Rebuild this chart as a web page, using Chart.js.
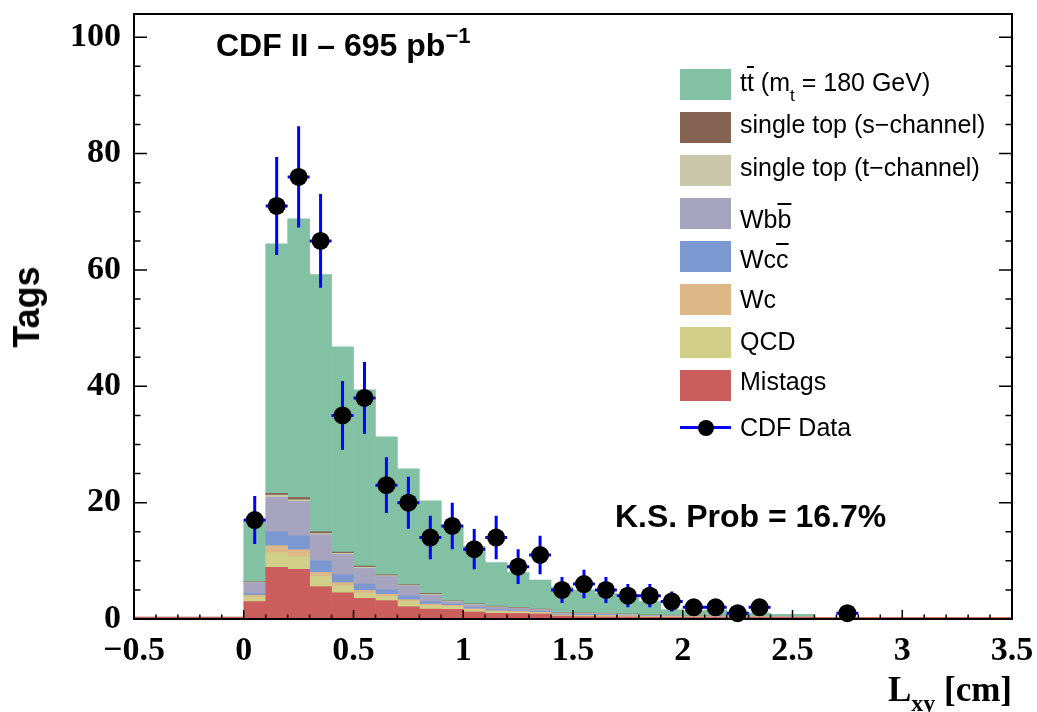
<!DOCTYPE html>
<html>
<head>
<meta charset="utf-8">
<script src="https://cdn.jsdelivr.net/npm/chart.js@4.4.0/dist/chart.umd.min.js"></script>
<style>
  body { margin: 0; background: #fff; }
  #wrap { position: relative; width: 1037px; height: 712px; font-family: "Liberation Sans", Arial, sans-serif; }
  #wrap canvas { position: absolute; left: 0; top: 0; }
  .txt { position: absolute; white-space: nowrap; color: #000; line-height: 1; }
  .box { position: absolute; width: 51px; height: 31px; }
  .leg { font-size: 25px; left: 740px; }
  .ov { text-decoration: overline; }
</style>
</head>
<body>
<div id="wrap">
  <canvas id="ctxLxy" width="1037" height="712"></canvas>

  <div class="txt" style="left:216px; top:29px; font-size:32px; font-weight:bold;">CDF II &ndash; 695 pb<span style="font-size:22px; position:relative; top:-13px;">&minus;1</span></div>
  <div class="txt" style="left:615px; top:500px; font-size:32px; font-weight:bold;">K.S. Prob = 16.7%</div>
  <div class="txt" style="left:27px; top:307px; font-size:36px; font-weight:bold; transform: translate(-50%, -50%) rotate(-90deg);">Tags</div>
  <div class="txt" style="right:25px; top:672px; font-size:35px; font-weight:bold; font-family:'Liberation Serif', serif;">L<span style="font-size:24px; position:relative; top:10px;">xy</span> [cm]</div>

  <div class="box" style="left:680px; top:69px; background:#82C1A4;"></div>
  <div class="txt leg" style="top:70px;">t<span class="ov">t</span> (m<span style="font-size:17px; position:relative; top:10px;">t</span> = 180 GeV)</div>
  <div class="box" style="left:680px; top:112px; background:#856353;"></div>
  <div class="txt leg" style="top:112px;">single top (s&minus;channel)</div>
  <div class="box" style="left:680px; top:155px; background:#CBC7AA;"></div>
  <div class="txt leg" style="top:155px;">single top (t&minus;channel)</div>
  <div class="box" style="left:680px; top:198px; background:#A7A4C0;"></div>
  <div class="txt leg" style="top:207px;">Wb<span class="ov">b</span></div>
  <div class="box" style="left:680px; top:241px; background:#7B99D0;"></div>
  <div class="txt leg" style="top:247px;">Wc<span class="ov">c</span></div>
  <div class="box" style="left:680px; top:284px; background:#DEB788;"></div>
  <div class="txt leg" style="top:287px;">Wc</div>
  <div class="box" style="left:680px; top:327px; background:#D1CE89;"></div>
  <div class="txt leg" style="top:329px;">QCD</div>
  <div class="box" style="left:680px; top:370px; background:#CC5D5D;"></div>
  <div class="txt leg" style="top:369px;">Mistags</div>
  <div style="position:absolute; left:680px; top:426px; width:51px; height:3px; background:#0000FF;"></div>
  <div style="position:absolute; left:698px; top:420px; width:16px; height:16px; border-radius:50%; background:#000;"></div>
  <div class="txt leg" style="top:415px;">CDF Data</div>
</div>

<script>
// L_xy bins, -0.5 .. 3.5 in steps of 0.1 (bin centres)
const binCenters = [
  -0.45, -0.35, -0.25, -0.15, -0.05,
  0.05, 0.15, 0.25, 0.35, 0.45, 0.55, 0.65, 0.75, 0.85, 0.95,
  1.05, 1.15, 1.25, 1.35, 1.45, 1.55, 1.65, 1.75, 1.85, 1.95,
  2.05, 2.15, 2.25, 2.35, 2.45, 2.55, 2.65, 2.75, 2.85, 2.95,
  3.05, 3.15, 3.25, 3.35, 3.45
];

// stacked backgrounds, bottom to top
const mistags = [0.3, 0.3, 0.3, 0.3, 0.3,
  3.0, 8.9, 8.55, 5.56, 4.5, 3.55, 3.15, 2.1, 1.7, 1.65,
  1.2, 0.97, 0.95, 0.86, 0.5, 0.4, 0.35, 0.35, 0.3, 0.3,
  0.3, 0.3, 0.3, 0.3, 0.3, 0.3, 0.25, 0.25, 0.25, 0.25,
  0.25, 0.25, 0.25, 0.25, 0.25];
const qcd = [0, 0, 0, 0, 0,
  0.8, 2.5, 2.15, 1.74, 1.2, 0.85, 0.7, 0.9, 0.6, 0.5,
  0.4, 0.33, 0.25, 0.19, 0.15, 0.15, 0.15, 0.15, 0.1, 0.1,
  0.05, 0.05, 0.05, 0.05, 0.03, 0.03, 0, 0, 0, 0,
  0, 0, 0, 0, 0];
const wc = [0, 0, 0, 0, 0,
  0.3, 1.2, 1.2, 0.7, 0.55, 0.5, 0.4, 0.3, 0.25, 0.2,
  0.15, 0.1, 0.1, 0.1, 0.05, 0.05, 0.1, 0.05, 0.05, 0.05,
  0.03, 0.03, 0.02, 0.02, 0.02, 0.02, 0, 0, 0, 0,
  0, 0, 0, 0, 0];
const wcc = [0, 0, 0, 0, 0,
  0.3, 2.4, 2.4, 2.0, 1.35, 1.1, 0.75, 0.66, 0.45, 0.2,
  0.2, 0.2, 0.15, 0.15, 0.1, 0.1, 0.1, 0.05, 0.05, 0.05,
  0.03, 0.03, 0.03, 0.02, 0.02, 0.02, 0, 0, 0, 0,
  0, 0, 0, 0, 0];
const wbb = [0, 0, 0, 0, 0,
  1.85, 5.9, 5.9, 4.5, 3.5, 2.7, 2.3, 1.74, 1.1, 0.35,
  0.45, 0.4, 0.39, 0.25, 0.2, 0.25, 0.15, 0.15, 0.1, 0.05,
  0.05, 0.05, 0.05, 0.04, 0.03, 0.03, 0, 0, 0, 0,
  0, 0, 0, 0, 0];
const singleTopT = [0, 0, 0, 0, 0,
  0.1, 0.4, 0.3, 0.2, 0.2, 0.2, 0.15, 0.1, 0.15, 0.1,
  0.1, 0.1, 0.06, 0.05, 0.05, 0.05, 0.05, 0.05, 0.05, 0.05,
  0.03, 0.03, 0.02, 0.02, 0.02, 0.02, 0, 0, 0, 0,
  0, 0, 0, 0, 0];
const singleTopS = [0, 0, 0, 0, 0,
  0.1, 0.3, 0.4, 0.3, 0.2, 0.2, 0.15, 0.1, 0.15, 0.1,
  0.1, 0.1, 0.1, 0.1, 0.05, 0.05, 0.05, 0.05, 0.05, 0.05,
  0.03, 0.03, 0.02, 0.02, 0.02, 0.02, 0, 0, 0, 0,
  0, 0, 0, 0, 0];
const ttbar = [0, 0, 0, 0, 0,
  10.55, 42.9, 47.9, 44.2, 35.3, 30.3, 23.7, 19.9, 15.9, 12.9,
  9.9, 7.5, 6.0, 5.0, 4.4, 3.95, 3.45, 2.75, 2.3, 0.95,
  0.9, 1.0, 0.7, 0.55, 0.36, 0.36, 0, 0, 0, 0,
  0, 0, 0, 0, 0];

// CDF data, tags per bin
const dataCounts = [0, 0, 0, 0, 0,
  17, 71, 76, 65, 35, 38, 23, 20, 14, 16,
  12, 14, 9, 11, 5, 6, 5, 4, 4, 3,
  2, 2, 1, 2, 0, 0, 0, 1, 0, 0,
  0, 0, 0, 0, 0];

const xTicks = [-0.5, 0, 0.5, 1, 1.5, 2, 2.5, 3, 3.5];
const yTicks = [0, 20, 40, 60, 80, 100];

const stack = [
  { label: 'Mistags', values: mistags, color: '#CC5D5D' },
  { label: 'QCD', values: qcd, color: '#D1CE89' },
  { label: 'Wc', values: wc, color: '#DEB788' },
  { label: 'Wcc', values: wcc, color: '#7B99D0' },
  { label: 'Wbb', values: wbb, color: '#A7A4C0' },
  { label: 'single top (t-channel)', values: singleTopT, color: '#CBC7AA' },
  { label: 'single top (s-channel)', values: singleTopS, color: '#856353' },
  { label: 'ttbar', values: ttbar, color: '#82C1A4' },
];

const halfBin = (binCenters[1] - binCenters[0]) / 2;

// frame, inside ticks and error bars, drawn just before the data markers
const rootFrame = {
  id: 'rootFrame',
  beforeDatasetDraw(chart, args) {
    if (args.meta.type !== 'line') return;
    const { ctx, chartArea: a, scales: { x, y } } = chart;
    ctx.save();
    ctx.strokeStyle = '#000';
    ctx.lineWidth = 1.5;
    ctx.beginPath();
    // x ticks: major each label, minor each bin edge
    for (let i = 0; i <= binCenters.length; i++) {
      const v = binCenters[0] - halfBin + i * 2 * halfBin;
      const px = x.getPixelForValue(v);
      const len = i % 5 === 0 ? 9 : 4.5;
      ctx.moveTo(px, a.bottom); ctx.lineTo(px, a.bottom - len);
    }
    for (let v = 0; v <= y.max; v += 5) {
      const py = y.getPixelForValue(v);
      const len = v % 20 === 0 ? 13 : 6.5;
      ctx.moveTo(a.left, py); ctx.lineTo(a.left + len, py);
      ctx.moveTo(a.right, py); ctx.lineTo(a.right - len, py);
    }
    ctx.stroke();
    ctx.lineWidth = 2;
    ctx.strokeRect(a.left, a.top, a.right - a.left, a.bottom - a.top);

    ctx.strokeStyle = '#0000FF';
    ctx.lineWidth = 3;
    ctx.beginPath();
    binCenters.forEach((c, i) => {
      const n = dataCounts[i];
      if (!n) return;
      const e = Math.sqrt(n);
      const px = x.getPixelForValue(c);
      const py = y.getPixelForValue(n);
      ctx.moveTo(px, y.getPixelForValue(n - e));
      ctx.lineTo(px, y.getPixelForValue(n + e));
      ctx.moveTo(x.getPixelForValue(c - halfBin), py);
      ctx.lineTo(x.getPixelForValue(c + halfBin), py);
    });
    ctx.stroke();
    ctx.restore();
  }
};

const datasets = stack.map(s => ({
  type: 'bar',
  label: s.label,
  data: binCenters.map((c, i) => ({ x: c, y: s.values[i] })),
  backgroundColor: s.color,
  borderWidth: 0,
  barPercentage: 1,
  categoryPercentage: 1,
}));

datasets.push({
  type: 'line',
  label: 'CDF Data',
  stack: 'data',
  order: -1,
  showLine: false,
  clip: false,
  data: binCenters.map((c, i) => ({ x: c, y: dataCounts[i] })).filter(p => p.y > 0),
  pointRadius: 9,
  pointHoverRadius: 9,
  pointBackgroundColor: '#000',
  pointBorderWidth: 0,
});

const tickFont = { family: 'Liberation Serif', weight: 'bold', size: 34 };

new Chart(document.getElementById('ctxLxy').getContext('2d'), {
  type: 'bar',
  data: { datasets: datasets },
  options: {
    responsive: false,
    animation: false,
    layout: { padding: { top: 14, right: 25, left: 0, bottom: 0 } },
    plugins: { legend: { display: false }, tooltip: { enabled: false } },
    scales: {
      x: {
        type: 'linear',
        stacked: true,
        offset: false,
        min: xTicks[0],
        max: xTicks[xTicks.length - 1],
        grid: { display: false, drawTicks: false, offset: false },
        border: { display: false },
        afterBuildTicks: (s) => { s.ticks = xTicks.map(v => ({ value: v })); },
        afterFit: (s) => { s.height = 93; s.paddingLeft = 0; s.paddingRight = 0; },
        ticks: {
          color: '#000',
          font: tickFont,
          padding: 12,
          maxRotation: 0,
          autoSkip: false,
          callback: (v) => String(v).replace('-', '\u2212'),
        },
      },
      y: {
        stacked: true,
        min: 0,
        max: 104,
        grid: { display: false, drawTicks: false },
        border: { display: false },
        afterBuildTicks: (s) => { s.ticks = yTicks.map(v => ({ value: v })); },
        afterFit: (s) => { s.width = 134; s.paddingTop = 0; s.paddingBottom = 0; },
        ticks: { color: '#000', font: tickFont, padding: 13 },
      },
    },
  },
  plugins: [rootFrame],
});
</script>
</body>
</html>
